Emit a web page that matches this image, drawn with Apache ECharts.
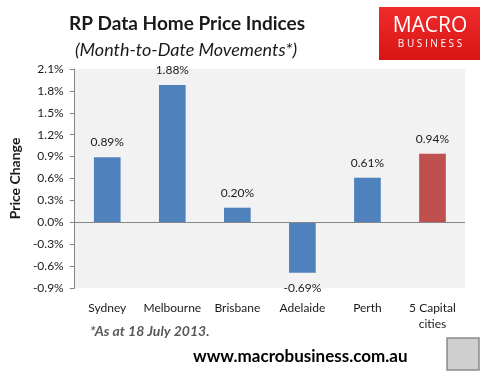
<!DOCTYPE html>
<html><head><meta charset="utf-8">
<script src="https://cdn.jsdelivr.net/npm/echarts@6/dist/echarts.min.js"></script>
<style>html,body{margin:0;padding:0;background:#fff}#c{width:491px;height:381px}</style>
</head><body><div id="c"></div>
<script>
var categories = ['Sydney', 'Melbourne', 'Brisbane', 'Adelaide', 'Perth', '5 Capital\ncities'];
var values = [0.89, 1.88, 0.20, -0.69, 0.61, 0.94];
var barColors = ['#4f81bd', '#4f81bd', '#4f81bd', '#4f81bd', '#4f81bd', '#c0504d'];
var yMin = -0.9, yMax = 2.1, yStep = 0.3;

var font = 'Lato, "Open Sans", sans-serif';
var chart = echarts.init(document.getElementById('c'));
chart.setOption({
  animation: false,
  backgroundColor: '#fff',
  textStyle: { fontFamily: font },
  grid: { left: 69, right: 26, top: 69, bottom: 93, show: true, backgroundColor: '#f2f2f2', borderWidth: 0 },
  title: [
    { text: 'RP Data Home Price Indices', left: 182, top: 9, textAlign: 'center',
      textStyle: { fontFamily: font, fontSize: 19, fontWeight: 'bold', color: '#1a1a1a' } },
    { text: '(Month-to-Date Movements*)', left: 181, top: 36, textAlign: 'center',
      textStyle: { fontFamily: font, fontSize: 18, fontStyle: 'italic', fontWeight: 'normal', color: '#1a1a1a' } }
  ],
  xAxis: {
    type: 'category', data: categories,
    axisLine: { show: false }, axisTick: { show: false },
    axisLabel: { color: '#1a1a1a', fontSize: 12, margin: 12, lineHeight: 16, interval: 0 }
  },
  yAxis: {
    type: 'value', min: yMin, max: yMax, interval: yStep,
    name: 'Price Change', nameLocation: 'middle', nameGap: 50, nameRotate: 90,
    nameTextStyle: { fontFamily: font, fontSize: 14, fontWeight: 'bold', color: '#1a1a1a' },
    splitLine: { show: false },
    axisLine: { show: true, onZero: false, lineStyle: { color: '#868686' } },
    axisTick: { show: true, length: 5, lineStyle: { color: '#868686' } },
    axisLabel: { color: '#1a1a1a', fontSize: 12, margin: 11,
      formatter: function (v) { return v.toFixed(1) + '%'; } }
  },
  series: [{
    type: 'bar', data: values.map(function (v, i) { return { value: v, itemStyle: { color: barColors[i] } }; }),
    barWidth: '41%',
    label: { show: true, position: 'outside', distance: 9, fontSize: 12, color: '#1a1a1a',
      formatter: function (p) { return p.value.toFixed(2) + '%'; } },
    markLine: { silent: true, symbol: 'none', label: { show: false },
      lineStyle: { color: '#868686', type: 'solid', width: 1 }, data: [{ yAxis: 0 }] }
  }],
  graphic: [
    { type: 'rect', shape: { x: 379, y: 7, width: 101, height: 53 },
      style: { fill: { type: 'linear', x: 0, y: 0, x2: 0, y2: 1, colorStops: [{ offset: 0, color: '#ef2b2b' }, { offset: 1, color: '#d81414' }] } } },
    { type: 'text', style: { x: 430, y: 26, text: 'MACRO', fill: '#fff', font: '21px "Open Sans", sans-serif', align: 'center', verticalAlign: 'middle' } },
    { type: 'text', style: { x: 430, y: 44, text: 'B U S I N E S S', fill: '#fff', font: '10px "Open Sans", sans-serif', align: 'center', verticalAlign: 'middle' } },
    { type: 'text', style: { x: 90, y: 331, text: '*As at 18 July 2013.', fill: '#595959', font: 'italic bold 14px Lato, sans-serif', verticalAlign: 'middle' } },
    { type: 'text', style: { x: 193, y: 357, text: 'www.macrobusiness.com.au', fill: '#000', font: 'bold 17px Lato, sans-serif', verticalAlign: 'middle' } },
    { type: 'rect', shape: { x: 447, y: 338, width: 32, height: 32 }, style: { fill: '#cfcfcf', stroke: '#8a8a8a', lineWidth: 1.5 } }
  ]
});
</script></body></html>
